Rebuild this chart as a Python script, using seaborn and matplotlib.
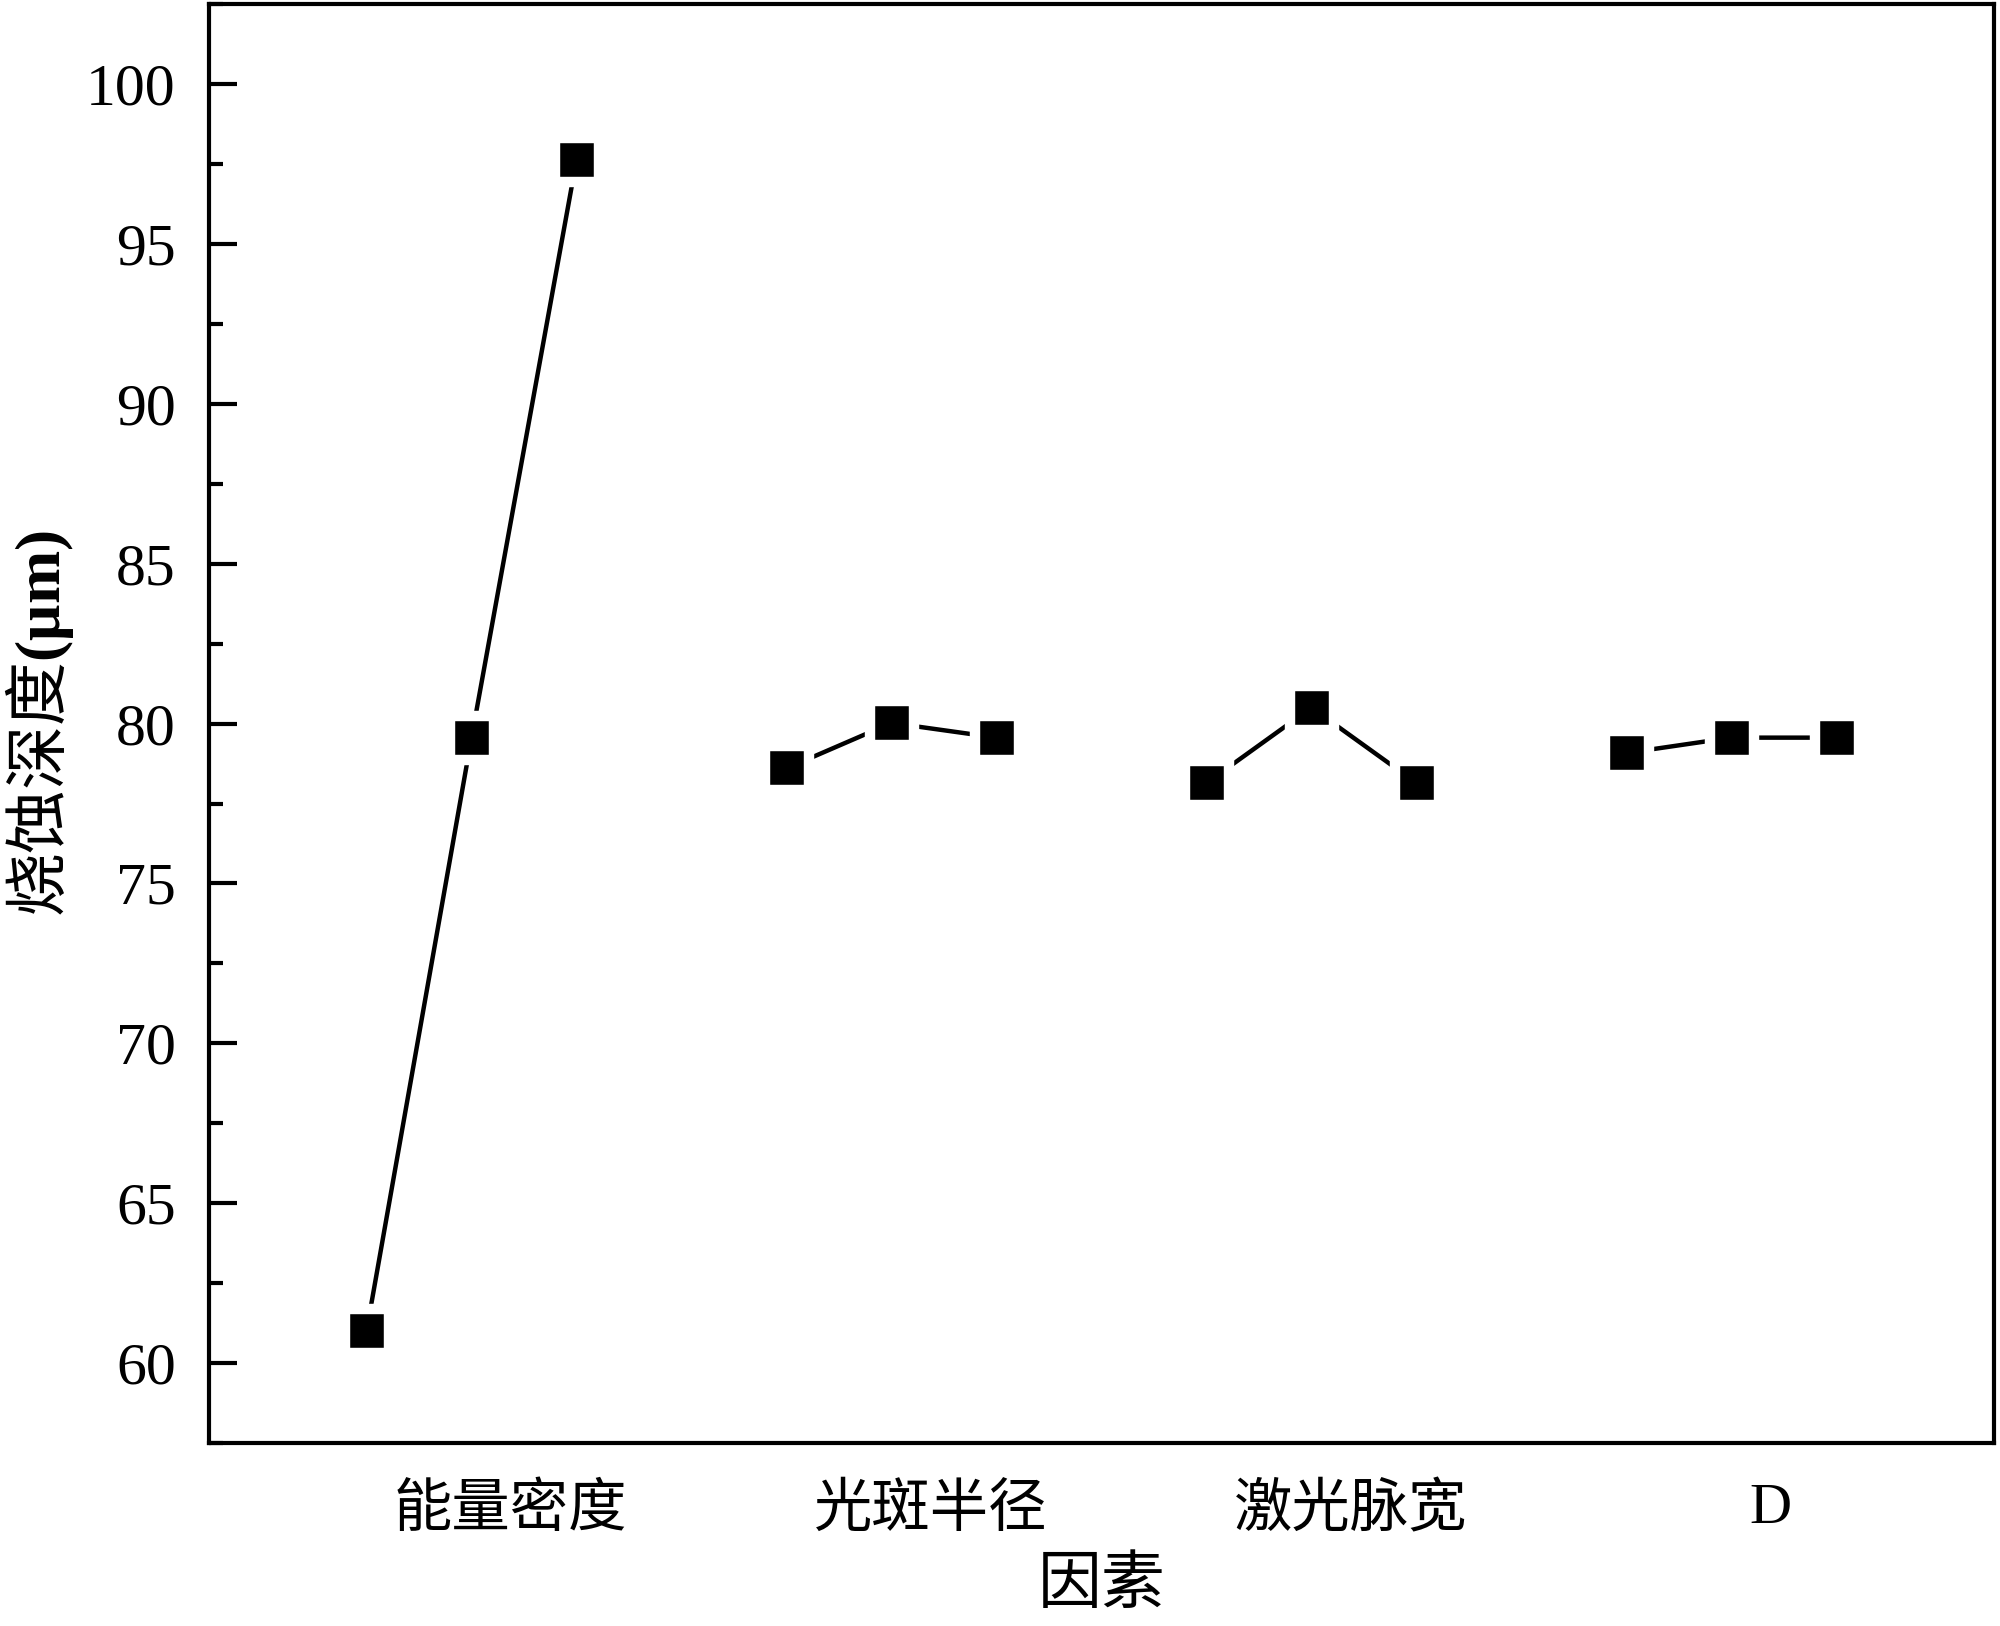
import pandas as pd
import matplotlib
matplotlib.use('Agg')
import matplotlib.pyplot as plt
from matplotlib.ticker import MultipleLocator
import seaborn as sns

# data
factors = ['能量密度', '光斑半径', '激光脉宽', 'D']
energy_density = [61.0, 79.55, 97.62]
spot_radius = [78.60, 80.02, 79.56]
pulse_width = [78.14, 80.50, 78.14]
factor_d = [79.08, 79.56, 79.56]

series = [energy_density, spot_radius, pulse_width, factor_d]
rows = []
for g, (name, vals) in enumerate(zip(factors, series)):
    for lvl, v in enumerate(vals):
        rows.append({'factor': name, 'x': g * 4 + lvl + 1, 'depth': v})
df = pd.DataFrame(rows)

sns.set_style('ticks')
plt.rcParams['font.family'] = ['Liberation Serif', 'Noto Sans CJK SC']
plt.rcParams['axes.unicode_minus'] = False
# mathtext only for the y label: CJK in rm, bold serif for the unit
plt.rcParams['mathtext.fontset'] = 'custom'
plt.rcParams['mathtext.rm'] = 'Noto Sans CJK SC'
plt.rcParams['mathtext.bf'] = 'Liberation Serif:bold'
plt.rcParams['text.color'] = 'black'
plt.rcParams['axes.labelcolor'] = 'black'
plt.rcParams['xtick.color'] = 'black'
plt.rcParams['ytick.color'] = 'black'

fig = plt.figure(figsize=(20, 16.26), dpi=100)
ax = fig.add_axes([0.1045, 0.1125, 0.8925, 0.885])

# white marker edge leaves the small gap between line and marker
sns.lineplot(data=df, x='x', y='depth', units='factor', estimator=None,
             color='black', linewidth=3.2, marker='s', markersize=31,
             markerfacecolor='black', markeredgecolor='white',
             markeredgewidth=7.5, solid_capstyle='round', ax=ax,
             legend=False)

ax.set_xlim(-0.5, 16.5)
ax.set_ylim(57.5, 102.5)

ax.yaxis.set_major_locator(MultipleLocator(5))
ax.yaxis.set_minor_locator(MultipleLocator(2.5))
ax.tick_params(axis='y', which='major', direction='in', length=20, width=3,
               labelsize=43, pad=24, right=False)
ax.tick_params(axis='y', which='minor', direction='in', length=10, width=3,
               right=False)

centers = [g * 4 + 2 + 0.37 for g in range(len(factors))]
ax.set_xticks(centers)
ax.set_xticklabels(factors)
ax.tick_params(axis='x', which='both', length=0, labelsize=42, pad=29,
               top=False)

for s in ax.spines.values():
    s.set_visible(True)
    s.set_linewidth(3)
    s.set_color('black')

ax.set_xlabel('因素', fontsize=46, labelpad=14)
ax.set_ylabel('$\\mathrm{烧蚀深度}\\mathbf{(μm)}$', fontsize=46, labelpad=7)

fig.savefig('out.png', dpi=100, facecolor='white')
